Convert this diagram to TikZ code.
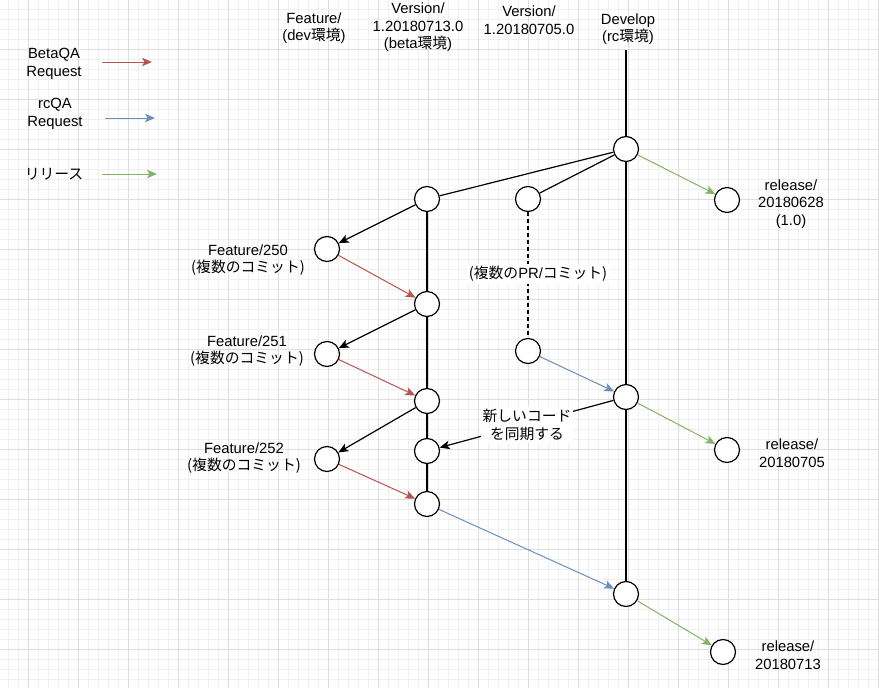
\documentclass[tikz,border=0pt]{standalone}
\usepackage{fontspec}
\setmainfont{Liberation Sans}
\newfontfamily\jpfont{Noto Sans CJK JP}
\newcommand\J[1]{{\jpfont #1}}
\usetikzlibrary{arrows.meta}
\definecolor{dred}{HTML}{B85450}
\definecolor{dblue}{HTML}{6C8EBF}
\definecolor{dgreen}{HTML}{82B366}
\definecolor{gminor}{HTML}{F0F0F0}
\definecolor{gmajor}{HTML}{DEDEDE}
\tikzset{
  commit/.style={circle,draw,line width=1.2pt,fill=white,minimum size=25pt,inner sep=0pt},
  lbl/.style={align=center,font=\fontsize{14.8}{17.5}\selectfont,inner sep=1pt},
  wlbl/.style={lbl,fill=white,inner sep=2pt},
  tip/.style={-{Stealth[length=10pt,width=8.5pt,inset=2.5pt]}},
  blk/.style={line width=1.2pt},
  barrow/.style={blk,tip},
  redarr/.style={draw=dred,line width=1pt,tip},
  bluearr/.style={draw=dblue,line width=1pt,tip},
  greenarr/.style={draw=dgreen,line width=1pt,tip},
  minorline/.style={draw=gminor,line width=0.8pt},
  majorline/.style={draw=gmajor,line width=0.9pt},
}
\begin{document}
\begin{tikzpicture}[x=1pt,y=-1pt]
\useasboundingbox (0,0) rectangle (879,688);
\fill[white] (0,0) rectangle (879,688);
% grid
\foreach \x in {8,18,...,878} \draw[minorline] (\x,0) -- (\x,688);
\foreach \y in {9,19,...,688} \draw[minorline] (0,\y) -- (879,\y);
\foreach \x in {28,78,...,878} \draw[majorline] (\x,0) -- (\x,688);
\foreach \y in {49,99,...,688} \draw[majorline] (0,\y) -- (879,\y);

% headers
\node[lbl] (hfeat) at (314,28) {Feature/\\(dev\J{環境})};
\node[lbl] (hv713) at (418,27.5) {Version/\\1.20180713.0\\(beta\J{環境})};
\node[lbl] (hv705) at (529,20) {Version/\\1.20180705.0};
\node[lbl] (hdev) at (628,29) {Develop\\(rc\J{環境})};

% legend
\node[lbl] (lbeta) at (54,64) {BetaQA\\Request};
\node[lbl] (lrc) at (55,114) {rcQA\\Request};
\node[lbl] (lrel) at (54,174) {\J{リリース}};
\coordinate (b1) at (102,62); \coordinate (b2) at (152,62);
\coordinate (c1) at (105,118); \coordinate (c2) at (155,118);
\coordinate (g1) at (102,174); \coordinate (g2) at (157,174);
\draw[redarr] (b1) -- (b2);
\draw[bluearr] (c1) -- (c2);
\draw[greenarr] (g1) -- (g2);

% commits
\node[commit] (D1) at (626,149) {};
\node[commit] (D2) at (626,397) {};
\node[commit] (D3) at (626,594) {};
\node[commit] (V1) at (427,199) {};
\node[commit] (V2) at (427,304) {};
\node[commit] (V3) at (427,401) {};
\node[commit] (V4) at (427,451) {};
\node[commit] (V5) at (427,504) {};
\node[commit] (F0) at (327,249) {};
\node[commit] (F1) at (327,354) {};
\node[commit] (F2) at (327,459) {};
\node[commit] (R1) at (528,199) {};
\node[commit] (R2) at (528,351) {};
\node[commit] (L1) at (727,200) {};
\node[commit] (L2) at (727,450) {};
\node[commit] (L3) at (723,652) {};
\coordinate (devtop) at (626,50);

% trunk lines
\draw[blk] (devtop) -- (D1);
\draw[blk] (D1) -- (D2);
\draw[blk] (D2) -- (D3);
\draw[blk] (V1) -- (V2);
\draw[blk] (V2) -- (V3);
\draw[blk] (V3) -- (V4);
\draw[blk] (V4) -- (V5);
\draw[blk] (D1) -- (V1);
\draw[blk] (D1) -- (R1);
\draw[blk,dash pattern=on 4pt off 3pt] (R1) -- (R2);

% feature branches
\draw[barrow] (V1) -- (F0);
\draw[barrow] (V2) -- (F1);
\draw[barrow] (V3) -- (F2);
\draw[redarr] (F0) -- (V2);
\draw[redarr] (F1) -- (V3);
\draw[redarr] (F2) -- (V5);

% rc / release
\draw[bluearr] (R2) -- (D2);
\draw[bluearr] (V5) -- (D3);
\draw[greenarr] (D1) -- (L1);
\draw[greenarr] (D2) -- (L2);
\draw[greenarr] (D3) -- (L3);
\draw[barrow] (D2) -- (V4);

% labels
\node[lbl] (tf0) at (248,260) {Feature/250\\\J{(複数のコミット)}};
\node[lbl] (tf1) at (247,351) {Feature/251\\\J{(複数のコミット)}};
\node[lbl] (tf2) at (244,458) {Feature/252\\\J{(複数のコミット)}};
\node[wlbl] (tpr) at (538,274) {\J{(複数の}PR/\J{コミット)}};
\node[wlbl] (tsync) at (527,425) {\J{新しいコード}\\\J{を同期する}};
\node[lbl] (tl1) at (791,204) {release/\\20180628\\(1.0)};
\node[lbl] (tl2) at (792,453) {release/\\20180705};
\node[lbl] (tl3) at (788,655) {release/\\20180713};
\end{tikzpicture}
\end{document}
